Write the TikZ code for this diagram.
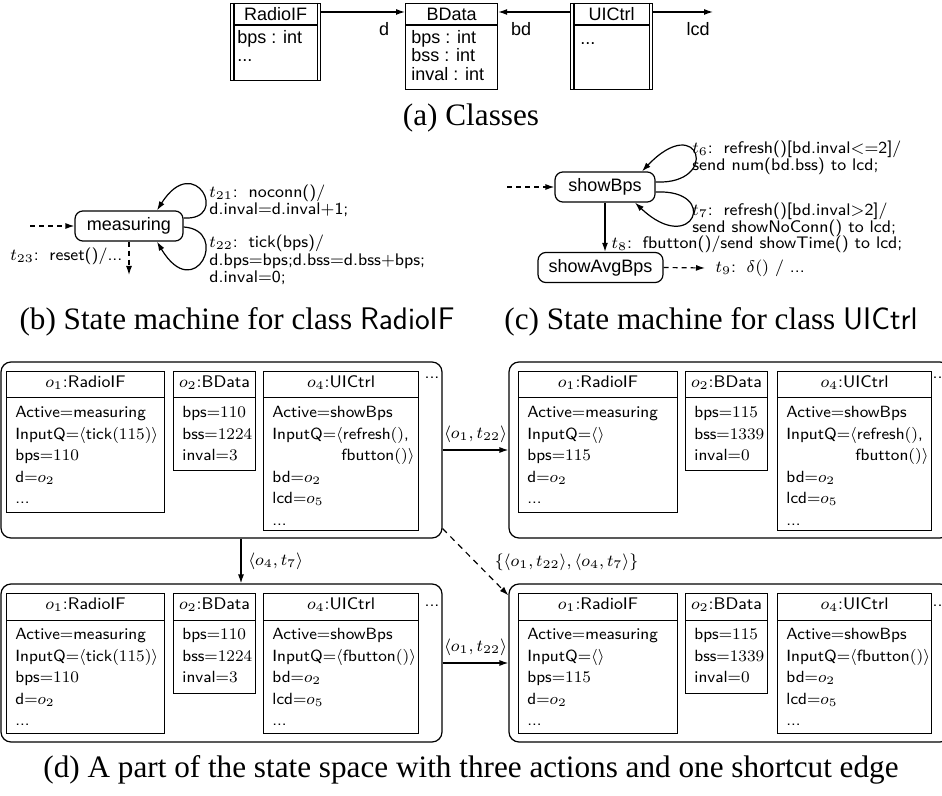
\documentclass[tikz,border=0pt]{standalone}
\usepackage{fix-cm}
\usepackage{amsmath}
\usepackage{fontspec}
\newfontfamily\helv{Liberation Sans}
\newfontfamily\capfont{Liberation Serif}
\usetikzlibrary{arrows.meta}

\newcommand{\objbox}[7]{%
  \node[objbox, minimum width=#4*0.5pt, minimum height=#5*0.5pt] (#1) at (#2,#3) {};
  \draw[objline] ([yshift=-13.5pt]#1.north west) -- ([yshift=-13.5pt]#1.north east);
  \node[objhead] (#1h) at ([yshift=-6pt]#1.north) {#6};
  \node[objbody] (#1b) at ([xshift=4.5pt,yshift=-16.25pt]#1.north west) {\rule{0pt}{7pt}#7};
}

\begin{document}
\begin{tikzpicture}[x=0.5pt, y=-0.5pt,
  classbox/.style={draw, line width=0.6pt, anchor=north west},
  umlline/.style={line width=0.6pt},
  classtext/.style={font=\helv\fontsize{9}{9.25}\selectfont, inner sep=0pt},
  classbody/.style={classtext, align=left, anchor=north west},
  assoc/.style={-{Latex[length=4.5pt,width=3pt]}, line width=0.6pt},
  smstate/.style={draw, rounded corners=4pt, line width=0.6pt, font=\helv\fontsize{9}{10}\selectfont},
  smtext/.style={font=\sffamily\fontsize{8.4}{8.7}\selectfont, align=left, inner sep=0pt},
  smarr/.style={-{Latex[length=4.5pt,width=3pt]}, line width=0.6pt},
  initarr/.style={smarr, dash pattern=on 2.5pt off 2pt},
  statebox/.style={draw, rounded corners=5pt, line width=0.6pt},
  objbox/.style={draw, line width=0.5pt, anchor=north west},
  objline/.style={line width=0.5pt},
  objhead/.style={font=\sffamily\fontsize{8.4}{10}\selectfont, inner sep=0pt},
  objbody/.style={font=\sffamily\fontsize{8.1}{10.75}\selectfont, align=left, inner sep=0pt, anchor=north west},
  edgelbl/.style={font=\fontsize{8.4}{10}\selectfont},
  capt/.style={font=\capfont\fontsize{15.6}{18}\selectfont}]
\useasboundingbox (0,0) rectangle (942,796);
\clip (0,0) rectangle (942,796);

% (a) classes
\node[classbox, minimum width=45pt, minimum height=38.5pt] (radioif) at (230,3) {};
\node[classbox, minimum width=46pt, minimum height=43pt] (bdata) at (405,3) {};
\node[classbox, minimum width=41pt, minimum height=43pt] (uictrl) at (570,3) {};
\draw[umlline] ([xshift=2pt]radioif.north west) -- ([xshift=2pt]radioif.south west);
\draw[umlline] ([xshift=-2pt]radioif.north east) -- ([xshift=-2pt]radioif.south east);
\draw[umlline] ([xshift=2pt]uictrl.north west) -- ([xshift=2pt]uictrl.south west);
\draw[umlline] ([xshift=-2pt]uictrl.north east) -- ([xshift=-2pt]uictrl.south east);
\draw[umlline] ([xshift=2pt,yshift=-11pt]radioif.north west) -- ([xshift=-2pt,yshift=-11pt]radioif.north east);
\draw[umlline] ([yshift=-11pt]bdata.north west) -- ([yshift=-11pt]bdata.north east);
\draw[umlline] ([xshift=2pt,yshift=-11pt]uictrl.north west) -- ([xshift=-2pt,yshift=-11pt]uictrl.north east);
\node[classtext] (radioifh) at ([yshift=-5.5pt]radioif.north) {RadioIF};
\node[classtext] (bdatah) at ([yshift=-5.5pt]bdata.north) {BData};
\node[classtext] (uictrlh) at ([yshift=-5.5pt]uictrl.north) {UICtrl};
\node[classbody] (radioifb) at (237,28) {\rule{0pt}{7.5pt}bps : int\\...};
\node[classbody] (bdatab) at (411,28) {\rule{0pt}{7.5pt}bps : int\\bss : int\\inval : int};
\node[classbody] (uictrlb) at (580,29) {\rule{0pt}{7.5pt}...};
\coordinate (lcdend) at (713,12);
\draw[assoc] ([yshift=-4.5pt]radioif.north east) -- ([yshift=-4.5pt]bdata.north west)
  node[classtext, pos=.75, below=5pt] {d};
\draw[assoc] ([yshift=-4.5pt]uictrl.north west) -- ([yshift=-4.5pt]bdata.north east)
  node[classtext, pos=.68, below=5pt] {bd};
\draw[assoc] ([yshift=-4.5pt]uictrl.north east) -- (lcdend)
  node[classtext, pos=.75, below=5pt] {lcd};
\node[capt] (capa) at (471,118) {(a) Classes};

% (b) RadioIF
\node[smstate, minimum width=54pt, minimum height=14pt] (measuring) at (129,226) {measuring};
\coordinate (minit) at (30,226);
\coordinate (mreset) at (129,275);
\draw[initarr] (minit) -- (measuring.west);
\draw[smarr] ([yshift=4pt]measuring.east) .. controls +(47,3) and +(38,-60) .. ([xshift=14pt]measuring.north);
\draw[smarr] ([yshift=-0.5pt]measuring.east) .. controls +(47,3) and +(38,64) .. ([xshift=14pt]measuring.south);
\draw[initarr] (measuring.south) -- (mreset)
  node[smtext, pos=.43, left=3pt] {$t_{23}$: \,reset()/...};
\node[smtext, anchor=west] (t21lbl) at (209,201) {$t_{21}$: \,noconn()/\\d.inval$=$d.inval$+$1;};
\node[smtext, anchor=west] (t22lbl) at (209,260) {$t_{22}$: \,tick(bps)/\\d.bps$=$bps;d.bss$=$d.bss$+$bps;\\d.inval$=$0;};
\node[capt] (capb) at (237,322) {(b) State machine for class \textsf{RadioIF}};

% (c) UICtrl
\node[smstate, minimum width=50pt, minimum height=13.5pt] (showbps) at (605,187) {showBps};
\node[smstate, minimum width=62.5pt, minimum height=14.5pt] (showavg) at (600.5,267.5) {showAvgBps};
\coordinate (sinit) at (507,187);
\coordinate (t9end) at (705,268);
\draw[initarr] (sinit) -- (showbps.west);
\draw[smarr] ([yshift=2.5pt]showbps.east) .. controls +(65,3) and +(58,-61) .. ([xshift=18.5pt]showbps.north);
\draw[smarr] ([yshift=-2.5pt]showbps.east) .. controls +(65,-3) and +(58,55) .. ([xshift=15pt]showbps.south);
\draw[smarr] (showbps.south) -- (showbps.south |- showavg.north)
  node[smtext, pos=.85, right=3pt] {$t_8$: \,fbutton()/send showTime() to lcd;};
\draw[initarr] (showavg.east) -- (t9end)
  node[smtext, right=5pt] {$t_9$: \,$\delta()$ / ...};
\node[smtext, anchor=west] (t6lbl) at (692,158) {$t_6$: \,refresh()[bd.inval$<$$=$2]/\\send num(bd.bss) to lcd;};
\node[smtext, anchor=west] (t7lbl) at (692,220) {$t_7$: \,refresh()[bd.inval$>$2]/\\send showNoConn() to lcd;};
\node[capt] (capc) at (711,322) {(c) State machine for class \textsf{UICtrl}};

% (d) state space
\node[statebox, minimum width=220.5pt, minimum height=88pt] (s1) at (221.5,450) {};
\node[statebox, minimum width=220.5pt, minimum height=88pt] (s2) at (729.5,450) {};
\node[statebox, minimum width=220.5pt, minimum height=79pt] (s3) at (221.5,663) {};
\node[statebox, minimum width=220.5pt, minimum height=79pt] (s4) at (729.5,663) {};

\objbox{s1o1}{6}{371}{158}{141}{$o_1$:RadioIF}{Active$=$measuring\\InputQ$=$$\langle$tick$(115)\rangle$\\bps$=$$110$\\d$=$$o_2$\\...}
\objbox{s1o2}{173}{371}{82}{99}{$o_2$:BData}{bps$=$$110$\\bss$=$$1224$\\inval$=$$3$}
\objbox{s1o4}{263}{371}{155}{159}{$o_4$:UICtrl}{Active$=$showBps\\InputQ$=$$\langle$refresh$()$,\\\hspace*{34.5pt}fbutton$()\rangle$\\bd$=$$o_2$\\lcd$=$$o_5$\\...}
\objbox{s2o1}{518}{371}{159}{141}{$o_1$:RadioIF}{Active$=$measuring\\InputQ$=$$\langle\rangle$\\bps$=$$115$\\d$=$$o_2$\\...}
\objbox{s2o2}{685}{371}{82}{99}{$o_2$:BData}{bps$=$$115$\\bss$=$$1339$\\inval$=$$0$}
\objbox{s2o4}{777}{371}{154}{159}{$o_4$:UICtrl}{Active$=$showBps\\InputQ$=$$\langle$refresh$()$,\\\hspace*{34.5pt}fbutton$()\rangle$\\bd$=$$o_2$\\lcd$=$$o_5$\\...}
\objbox{s3o1}{6}{593}{158}{140}{$o_1$:RadioIF}{Active$=$measuring\\InputQ$=$$\langle$tick$(115)\rangle$\\bps$=$$110$\\d$=$$o_2$\\...}
\objbox{s3o2}{173}{593}{82}{100}{$o_2$:BData}{bps$=$$110$\\bss$=$$1224$\\inval$=$$3$}
\objbox{s3o4}{263}{593}{155}{140}{$o_4$:UICtrl}{Active$=$showBps\\InputQ$=$$\langle$fbutton$()\rangle$\\bd$=$$o_2$\\lcd$=$$o_5$\\...}
\objbox{s4o1}{518}{593}{159}{140}{$o_1$:RadioIF}{Active$=$measuring\\InputQ$=$$\langle\rangle$\\bps$=$$115$\\d$=$$o_2$\\...}
\objbox{s4o2}{685}{593}{82}{100}{$o_2$:BData}{bps$=$$115$\\bss$=$$1339$\\inval$=$$0$}
\objbox{s4o4}{777}{593}{154}{140}{$o_4$:UICtrl}{Active$=$showBps\\InputQ$=$$\langle$fbutton$()\rangle$\\bd$=$$o_2$\\lcd$=$$o_5$\\...}

\node[objhead] (s1dots) at (432,378) {...};
\node[objhead] (s2dots) at (940,378) {...};
\node[objhead] (s3dots) at (432,606) {...};
\node[objhead] (s4dots) at (940,606) {...};

\draw[smarr] (s1) -- (s2) node[edgelbl, midway, above] {$\langle o_1,t_{22}\rangle$};
\draw[smarr] (s3) -- (s4) node[edgelbl, midway, above] {$\langle o_1,t_{22}\rangle$};
\draw[smarr] ([xshift=9.75pt]s1.south) -- ([xshift=9.75pt]s3.north)
  node[edgelbl, midway, right] {$\langle o_4,t_7\rangle$};
\draw[smarr, dash pattern=on 3pt off 2.5pt] ([yshift=5pt]s1.south east) -- ([yshift=-6pt]s4.north west)
  node[edgelbl, midway, right=6pt] {$\{\langle o_1,t_{22}\rangle,\langle o_4,t_7\rangle\}$};
\node[capt] (capd) at (471,770) {(d) A part of the state space with three actions and one shortcut edge};
\end{tikzpicture}
\end{document}
